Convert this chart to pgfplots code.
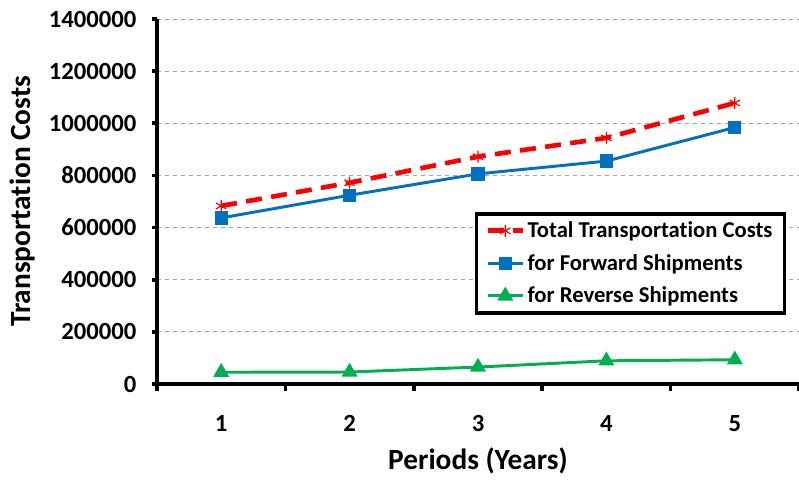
\documentclass[border=0pt]{standalone}
\usepackage{fontspec}
\setmainfont{Carlito}[Ligatures={NoCommon}]
\usepackage{pgfplots}
\pgfplotsset{compat=1.18}
\definecolor{totred}{RGB}{255,0,0}
\definecolor{fwdblue}{RGB}{0,112,192}
\definecolor{revgreen}{RGB}{0,176,80}

\begin{document}
\begin{tikzpicture}
\begin{axis}[
  scale only axis,
  width=481.5pt, height=273.75pt,
  xmin=0.5, xmax=5.5,
  ymin=0, ymax=1400000,
  axis x line*=bottom, axis y line*=left,
  axis line style={-, line width=2.8pt},
  tick align=outside,
  xtick={1,2,3,4,5},
  major x tick style={draw=none},
  minor xtick={0.5,1.5,...,5.5},
  minor x tick style={line width=2.8pt, black},
  minor tick length=5pt,
  ytick={0,200000,...,1400000},
  major y tick style={line width=2.8pt, black},
  major tick length=4pt,
  scaled y ticks=false,
  /pgf/number format/.cd, fixed, 1000 sep={}, assume math mode=true,
  /pgfplots/.cd,
  ymajorgrids,
  grid style={dashed, gray!70, line width=0.6pt},
  ticklabel style={font=\bfseries\fontsize{18.5}{22}\selectfont},
  xticklabel style={yshift=-16pt},
  yticklabel style={xshift=-8pt},
  label style={font=\bfseries\fontsize{22}{26}\selectfont},
  xlabel={Periods (Years)},
  ylabel={Transportation Costs},
  xlabel style={yshift=-5pt},
  ylabel style={at={(axis description cs:-0.209,0.5)}, anchor=center},
  legend style={at={(0.98,0.471)}, anchor=north east, draw=black,
    line width=2.6pt, font=\bfseries\fontsize{17}{20}\selectfont,
    row sep=7pt, inner xsep=7pt, inner ysep=4pt, cells={anchor=west}},
  legend image code/.code={
    \draw[mark repeat=2, mark phase=2] plot coordinates {(0pt,0pt) (13pt,0pt) (26pt,0pt)};},
]
\addplot[totred, line width=3.5pt, dash pattern=on 12pt off 7pt,
  mark=asterisk, mark size=4.5pt, mark options={solid, line width=0.9pt}]
  coordinates {(1,683000) (2,772000) (3,872000) (4,944000) (5,1078000)};
\addplot[fwdblue, line width=2.2pt, mark=square*, mark size=3.9pt,
  mark options={solid}]
  coordinates {(1,637000) (2,724000) (3,806000) (4,855000) (5,984000)};
\addplot[revgreen, line width=2.2pt, mark=triangle*, mark size=4.8pt,
  mark options={solid}]
  coordinates {(1,45000) (2,46000) (3,65000) (4,89000) (5,93000)};
\legend{Total Transportation Costs, for Forward Shipments, for Reverse Shipments}
\end{axis}
\pgfresetboundingbox
\path (-117.75pt,-77.25pt) rectangle (481.5pt,288pt);
\end{tikzpicture}
\end{document}
